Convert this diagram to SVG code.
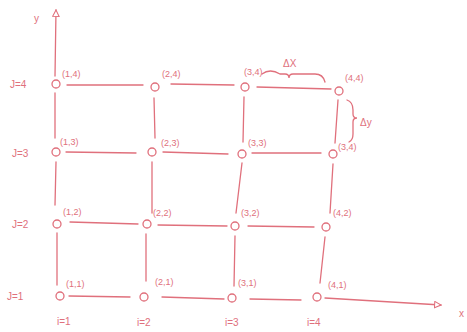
<svg xmlns="http://www.w3.org/2000/svg" width="467" height="332" viewBox="0 0 467 332">
<style>
.e{stroke:#e0707c;stroke-width:1.3;fill:none;stroke-linecap:round}
.n{stroke:#e0707c;stroke-width:1.3;fill:#fff}
text{font-family:"Liberation Sans",Arial,sans-serif;fill:#e0707c}
.l{font-size:9px}
.a{font-size:10px}
</style>
<defs>
<marker id="ah" viewBox="0 0 10 10" refX="9" refY="5" markerWidth="8" markerHeight="8" orient="auto" markerUnits="userSpaceOnUse">
<path d="M1,1 L9,5 L1,9 Z" fill="#fff" stroke="#e0707c" stroke-width="1.3"/>
</marker>
</defs>
<rect width="467" height="332" fill="#fff"/>
<g id="connectors">
<path class="e" d="M55,76 L56,10" marker-end="url(#ah)"/>
<path class="e" d="M325,298 L441,305" marker-end="url(#ah)"/>
<!-- row 4 -->
<path class="e" d="M67,85 L143,85"/>
<path class="e" d="M171,84 L234,85"/>
<path class="e" d="M257,87 L331,89"/>
<!-- row 3 -->
<path class="e" d="M66,152 L136,153"/>
<path class="e" d="M163,152 L228,154"/>
<path class="e" d="M252,153 L321,153"/>
<!-- row 2 -->
<path class="e" d="M70,222 L138,224"/>
<path class="e" d="M158,225 L227,226"/>
<path class="e" d="M248,226 L314,227"/>
<!-- row 1 -->
<path class="e" d="M69,296 L130,297"/>
<path class="e" d="M162,297 L224,299"/>
<path class="e" d="M250,299 L301,300"/>
<!-- col 1 -->
<path class="e" d="M55,93 L55,138"/>
<path class="e" d="M56,162 L55,205"/>
<path class="e" d="M57,233 L57,285"/>
<!-- col 2 -->
<path class="e" d="M154,98 L155,138"/>
<path class="e" d="M152,162 L152,213"/>
<path class="e" d="M146,234 L146,281"/>
<!-- col 3 -->
<path class="e" d="M244,97 L243,142"/>
<path class="e" d="M242,163 L236,213"/>
<path class="e" d="M235,236 L234,286"/>
<!-- col 4 -->
<path class="e" d="M338,100 L335,143"/>
<path class="e" d="M333,164 L330,213"/>
<path class="e" d="M325,237 L320,283"/>
<!-- braces -->
<path class="e" d="M262,74 Q270,68 280,74 L285,74 Q289,74 289,78 Q289,74 293,74 L315,74 Q323,74 325,82"/>
<path class="e" d="M347,100 Q353,102 353,110 L353,114 Q353,118 357,118 Q353,118 353,122 L353,134 Q353,140 349,142"/>
</g>
<g id="n11"><circle class="n" cx="60" cy="296" r="4"/><text class="l" x="66" y="287">(1,1)</text></g>
<g id="n21"><circle class="n" cx="144" cy="297" r="4"/><text class="l" x="155" y="285">(2,1)</text></g>
<g id="n31"><circle class="n" cx="232" cy="298" r="4"/><text class="l" x="238" y="286">(3,1)</text></g>
<g id="n41"><circle class="n" cx="317" cy="297" r="4"/><text class="l" x="328" y="288">(4,1)</text></g>
<g id="n12"><circle class="n" cx="57" cy="224" r="4"/><text class="l" x="63" y="215">(1,2)</text></g>
<g id="n22"><circle class="n" cx="147" cy="224" r="4"/><text class="l" x="153" y="216">(2,2)</text></g>
<g id="n32"><circle class="n" cx="235" cy="226" r="4"/><text class="l" x="241" y="216">(3,2)</text></g>
<g id="n42"><circle class="n" cx="326" cy="227" r="4"/><text class="l" x="333" y="216">(4,2)</text></g>
<g id="n13"><circle class="n" cx="56" cy="152" r="4"/><text class="l" x="60" y="145">(1,3)</text></g>
<g id="n23"><circle class="n" cx="152" cy="152" r="4"/><text class="l" x="161" y="146">(2,3)</text></g>
<g id="n33"><circle class="n" cx="242" cy="154" r="4"/><text class="l" x="248" y="146">(3,3)</text></g>
<g id="n43"><circle class="n" cx="333" cy="154" r="4"/><text class="l" x="338" y="150">(3,4)</text></g>
<g id="n14"><circle class="n" cx="56" cy="84" r="4"/><text class="l" x="62" y="77">(1,4)</text></g>
<g id="n24"><circle class="n" cx="155" cy="87" r="4"/><text class="l" x="162" y="77">(2,4)</text></g>
<g id="n34"><circle class="n" cx="245" cy="87" r="4"/><text class="l" x="244" y="75">(3,4)</text></g>
<g id="n44"><circle class="n" cx="339" cy="91" r="4"/><text class="l" x="345" y="81">(4,4)</text></g>
<g id="labels">
<text class="a" x="34" y="22">y</text>
<text class="a" x="459" y="317">x</text>
<text class="a" x="283" y="67">ΔX</text>
<text class="a" x="360" y="126">Δy</text>
<text class="a" x="10" y="88">J=4</text>
<text class="a" x="12" y="157">J=3</text>
<text class="a" x="12" y="228">J=2</text>
<text class="a" x="7" y="300">J=1</text>
<text class="a" x="57" y="325">i=1</text>
<text class="a" x="137" y="326">i=2</text>
<text class="a" x="225" y="326">i=3</text>
<text class="a" x="307" y="326">i=4</text>
</g>
</svg>
